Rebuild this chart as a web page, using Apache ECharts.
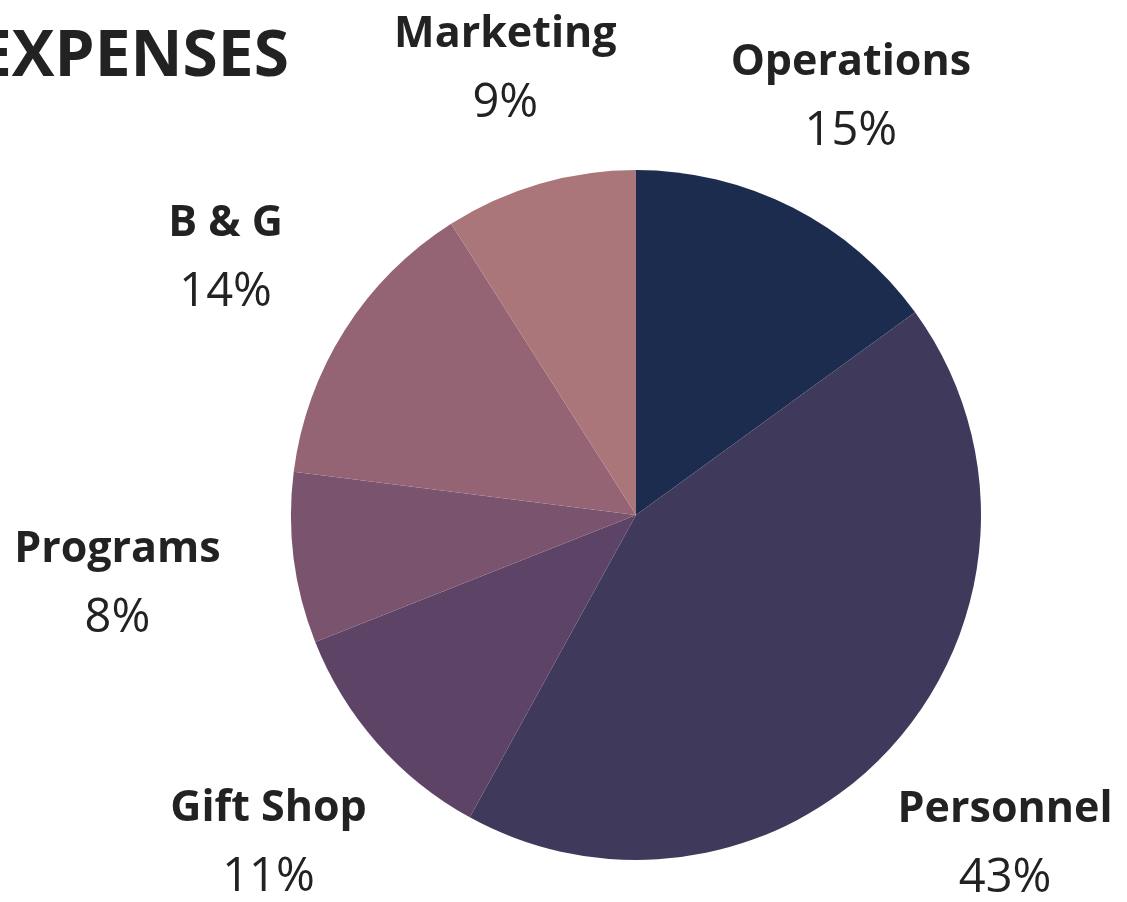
<!DOCTYPE html>
<html>
<head>
<meta charset="utf-8">
<script src="https://cdn.jsdelivr.net/npm/echarts@6/dist/echarts.min.js"></script>
<style>
html, body { margin: 0; padding: 0; background: #fff; }
#chart { width: 1127px; height: 902px; }
</style>
</head>
<body>
<div id="chart"></div>
<script>
// expense shares, clockwise from 12 o'clock
const categories = ["Operations", "Personnel", "Gift Shop", "Programs", "B & G", "Marketing"];
const shares = [15, 43, 11, 8, 14, 9];
const colors = ["#1c2c4e", "#3f3a5c", "#5d4467", "#7a546f", "#956474", "#aa7679"];

const pieCenter = [636, 515];
const pieRadius = 345;

const total = shares.reduce((a, b) => a + b, 0);
// mid angle of each slice (radians, clockwise from top)
const midAngles = [];
let acc = 0;
shares.forEach(function (v) {
  midAngles.push((acc + v / 2) / total * Math.PI * 2);
  acc += v;
});

const chart = echarts.init(document.getElementById("chart"));
const option = {
  backgroundColor: "#fff",
  title: {
    text: "EXPENSES",
    left: -29,
    top: 21,
    textStyle: {
      fontFamily: "Open Sans",
      fontWeight: "bold",
      fontSize: 64,
      color: "#222"
    }
  },
  series: [
    {
      type: "pie",
      center: pieCenter,
      radius: pieRadius,
      startAngle: 90,
      clockwise: true,
      animation: false,
      data: categories.map((name, i) => ({
        name: name,
        value: shares[i],
        itemStyle: { color: colors[i] }
      })),
      itemStyle: { borderWidth: 0 },
      label: {
        show: true,
        position: "outside",
        overflow: "none",
        formatter: function (p) {
          return "{n|" + p.name + "}\n{p|" + p.value + "%}";
        },
        rich: {
          n: {
            fontFamily: "Open Sans",
            fontWeight: "bold",
            fontSize: 43,
            color: "#222",
            lineHeight: 69,
            align: "center"
          },
          p: {
            fontFamily: "Open Sans",
            fontWeight: "normal",
            fontSize: 47,
            color: "#222",
            lineHeight: 69,
            align: "center"
          }
        }
      },
      labelLine: { show: false },
      labelLayout: function (params) {
        const a = midAngles[params.dataIndex];
        const s = Math.abs(Math.sin(a));
        const hw = params.labelRect.width / 2;
        const r = 467 + 58 * Math.pow(s, 3) * (hw / 105);
        return {
          x: pieCenter[0] + r * Math.sin(a),
          y: pieCenter[1] - r * Math.cos(a) + 4,
          align: "center",
          verticalAlign: "middle"
        };
      },
      emphasis: { disabled: true }
    }
  ]
};
chart.setOption(option);
</script>
</body>
</html>
